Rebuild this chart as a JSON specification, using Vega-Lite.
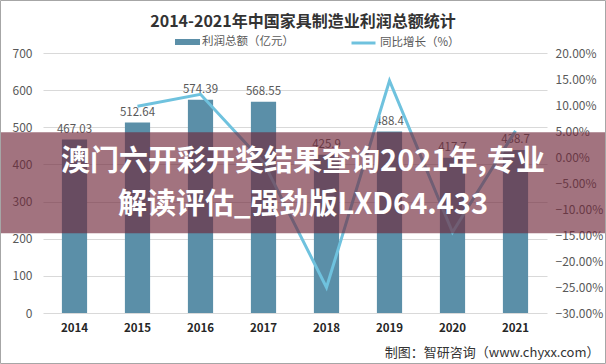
{
  "$schema": "https://vega.github.io/schema/vega-lite/v6.json",
  "autosize": {"type": "none"},
  "width": 504,
  "height": 260,
  "padding": {"left": 43, "top": 53, "right": 59, "bottom": 51},
  "background": "white",
  "config": {
    "view": {"stroke": null},
    "font": "Noto Sans CJK SC",
    "axis": {"labelFont": "Noto Sans CJK SC", "titleFont": "Noto Sans CJK SC"},
    "legend": {"labelFont": "Noto Sans CJK SC"}
  },
  "title": {
    "text": "2014-2021年中国家具制造业利润总额统计",
    "font": "Noto Sans CJK SC",
    "fontSize": 16,
    "fontWeight": "bold",
    "color": "#333333",
    "anchor": "middle",
    "baseline": "alphabetic",
    "offset": 0,
    "dx": 8,
    "dy": 43
  },
  "data": {
    "values": [
      {"year": "2014", "profit": 467.03, "growth": null},
      {"year": "2015", "profit": 512.64, "growth": 0.0977},
      {"year": "2016", "profit": 574.39, "growth": 0.1205},
      {"year": "2017", "profit": 568.55, "growth": -0.0102},
      {"year": "2018", "profit": 425.9, "growth": -0.2509},
      {"year": "2019", "profit": 488.4, "growth": 0.1467},
      {"year": "2020", "profit": 417.7, "growth": -0.1448},
      {"year": "2021", "profit": 438.7, "growth": 0.0503}
    ]
  },
  "encoding": {
    "x": {
      "field": "year",
      "type": "nominal",
      "sort": null,
      "scale": {"paddingInner": 0.6, "paddingOuter": 0.3},
      "axis": {
        "labelAngle": 0,
        "labelFontWeight": "bold",
        "labelColor": "#262626",
        "labelFontSize": 11.5,
        "labelPadding": 9,
        "ticks": false,
        "domain": false,
        "title": "制图：智研咨询（www.chyxx.com）",
        "titleFontSize": 13,
        "titleFontWeight": "normal",
        "titleColor": "#333333",
        "titleX": 556,
        "titleY": 39,
        "titleAlign": "right",
        "titleBaseline": "middle",
        "titleAnchor": null
      }
    }
  },
  "layer": [
    {
      "encoding": {
        "y": {
          "field": "profit",
          "type": "quantitative",
          "scale": {"domain": [0, 700], "nice": false},
          "axis": {
            "values": [0, 100, 200, 300, 400, 500, 600, 700],
            "title": null,
            "grid": true,
            "gridColor": "#d9d9d9",
            "domain": false,
            "ticks": false,
            "labelPadding": 11,
            "labelColor": "#595959",
            "labelFontSize": 12
          }
        }
      },
      "layer": [
        {
          "mark": {"type": "bar"},
          "encoding": {
            "color": {
              "datum": "利润总额（亿元）",
              "type": "nominal",
              "scale": {"range": ["#5B8FA8"]},
              "legend": {
                "orient": "none",
                "legendX": 132,
                "legendY": -23.5,
                "title": null,
                "padding": 0,
                "symbolType": "M-1,-0.24H1V0.24H-1Z",
                "symbolSize": 625,
                "symbolStrokeWidth": 0,
                "labelFontSize": 11.5,
                "labelColor": "#595959",
                "labelOffset": 2
              }
            }
          }
        },
        {
          "mark": {"type": "text", "baseline": "bottom", "dy": -5, "fontSize": 11.5, "color": "#595959"},
          "encoding": {
            "text": {"field": "profit", "type": "nominal"}
          }
        }
      ]
    },
    {
      "mark": {"type": "line", "strokeWidth": 3},
      "encoding": {
        "y": {
          "field": "growth",
          "type": "quantitative",
          "scale": {"domain": [-0.3, 0.2], "nice": false, "zero": false},
          "axis": {
            "orient": "right",
            "values": [-0.3, -0.25, -0.2, -0.15, -0.1, -0.05, 0, 0.05, 0.1, 0.15, 0.2],
            "format": ".2%",
            "title": null,
            "grid": false,
            "domain": false,
            "ticks": false,
            "labelPadding": 8,
            "labelColor": "#595959",
            "labelFontSize": 12
          }
        },
        "stroke": {
          "datum": "同比增长（%）",
          "type": "nominal",
          "scale": {"range": ["#6FC2DE"]},
          "legend": {
            "orient": "none",
            "legendX": 307,
            "legendY": -23.5,
            "title": null,
            "padding": 0,
            "symbolType": "stroke",
            "symbolSize": 576,
            "symbolStrokeWidth": 3,
            "labelFontSize": 11.5,
            "labelColor": "#595959",
            "labelOffset": 3
          }
        }
      }
    },
    {
      "data": {"values": [{"line1": "澳门六开彩开奖结果查询2021年,专业", "line2": "解读评估_强劲版LXD64.433"}]},
      "layer": [
        {
          "mark": {"type": "rect", "fill": "#70283A", "fillOpacity": 0.65},
          "encoding": {
            "x": {"value": -43},
            "x2": {"value": 563},
            "y": {"datum": 486.5, "type": "quantitative", "scale": {"domain": [0, 700], "nice": false}, "axis": null},
            "y2": {"datum": 215}
          }
        },
        {
          "mark": {"type": "text", "fontSize": 29, "fontWeight": "bold", "color": "white", "baseline": "middle", "align": "center"},
          "encoding": {
            "x": {"value": 260},
            "y": {"datum": 406.5, "type": "quantitative"},
            "text": {"field": "line1"}
          }
        },
        {
          "mark": {"type": "text", "fontSize": 29, "fontWeight": "bold", "color": "white", "baseline": "middle", "align": "center"},
          "encoding": {
            "x": {"value": 260},
            "y": {"datum": 290, "type": "quantitative"},
            "text": {"field": "line2"}
          }
        },
        {
          "mark": {"type": "rect", "fill": null, "stroke": "#a6a6a6", "strokeWidth": 1},
          "encoding": {
            "x": {"value": -42.5},
            "x2": {"value": 562.5},
            "y": {"value": -52.5},
            "y2": {"value": 310.5}
          }
        }
      ]
    }
  ],
  "resolve": {"scale": {"y": "independent"}}
}
